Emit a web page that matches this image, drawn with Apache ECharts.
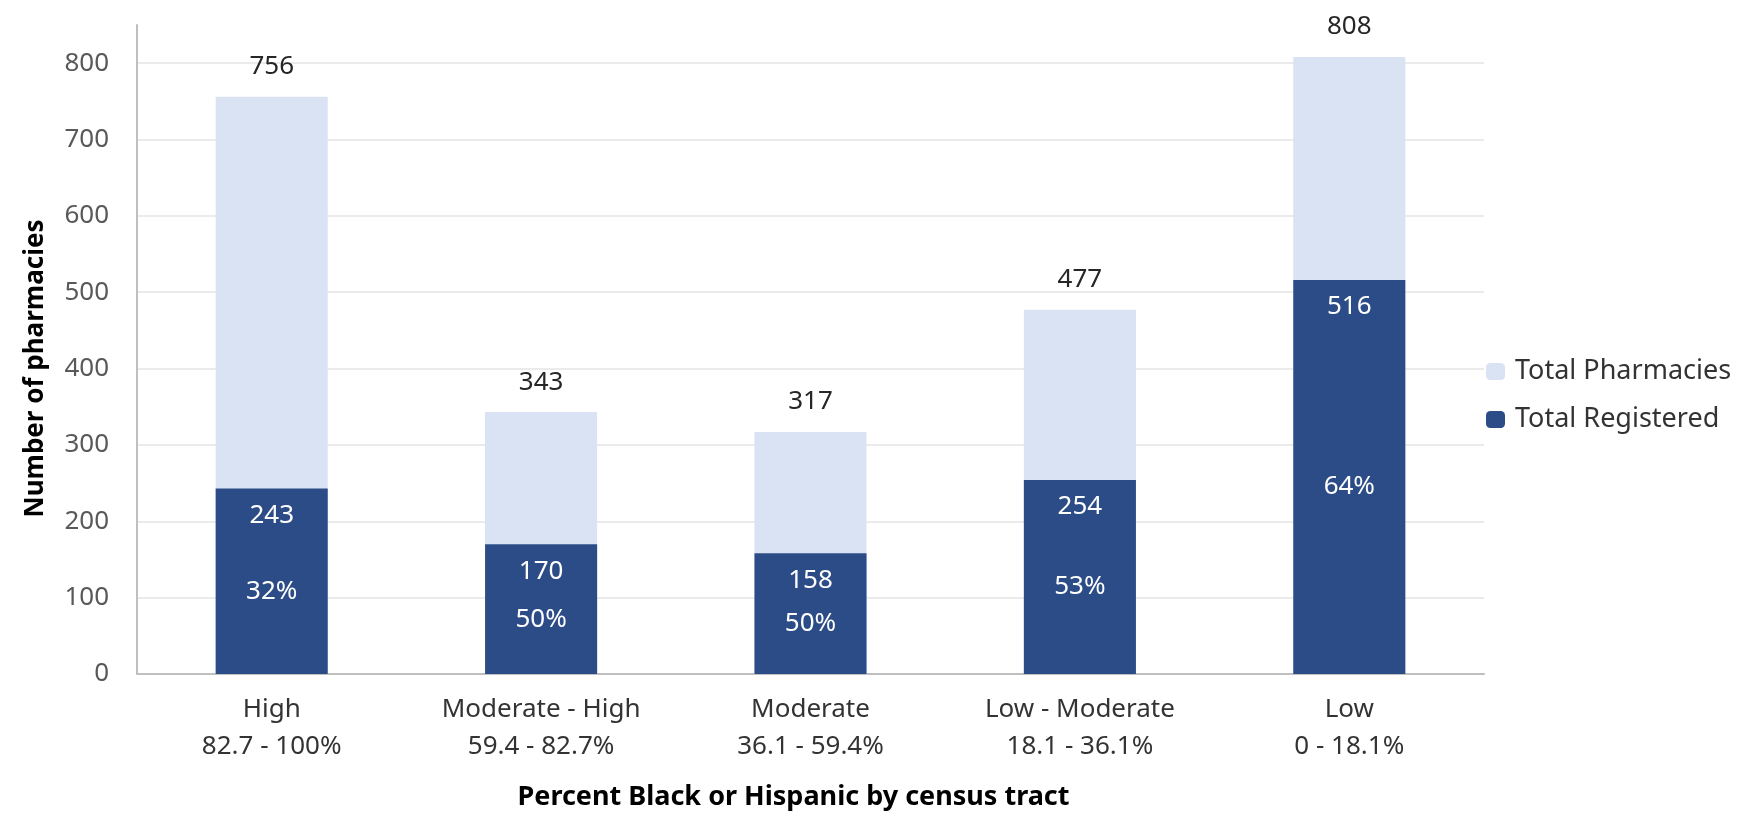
<!DOCTYPE html>
<html lang="en">
<head>
    <meta charset="UTF-8">
    <script src="https://cdnjs.cloudflare.com/ajax/libs/echarts/6.0.0/echarts.min.js"></script>
    <style>
        html, body { margin: 0; padding: 0; background: #fff; }
        #main { width: 1747px; height: 814px; }
    </style>
</head>
<body>

<div id="main"></div>

<script type="text/javascript">
    // census tract groups (percent Black or Hispanic)
    var categories = ['High\n82.7 - 100%', 'Moderate - High\n59.4 - 82.7%', 'Moderate\n36.1 - 59.4%',
                      'Low - Moderate\n18.1 - 36.1%', 'Low\n0 - 18.1%'];
    var totalPharmacies = [756, 343, 317, 477, 808];
    var totalRegistered = [243, 170, 158, 254, 516];
    var pctRegistered = ['32%', '50%', '50%', '53%', '64%'];

    var font = 'Noto Sans';

    var myChart = echarts.init(document.getElementById('main'));

    var option = {
        textStyle: { fontFamily: font },
        grid: { left: 137, right: 263, top: 25, bottom: 140, outerBoundsMode: 'none' },
        legend: {
            orient: 'vertical',
            left: 1481,
            top: 353,
            itemWidth: 19,
            itemHeight: 17,
            itemGap: 21,
            data: ['Total Pharmacies', 'Total Registered'],
            textStyle: { fontFamily: font, fontSize: 27, color: '#333', padding: [0, 0, 0, 5] }
        },
        xAxis: {
            type: 'category',
            data: categories,
            name: 'Percent Black or Hispanic by census tract',
            nameLocation: 'middle',
            nameGap: 110,
            nameTextStyle: { fontFamily: font, fontSize: 27, fontWeight: 'bold', color: '#000', padding: [0, 34, 0, 0] },
            axisLine: { lineStyle: { color: '#bfbfbf', width: 2 } },
            axisTick: { show: false },
            axisLabel: { fontFamily: font, fontSize: 26, color: '#333', lineHeight: 37, margin: 17 }
        },
        yAxis: {
            type: 'value',
            min: 0,
            max: 850,
            interval: 100,
            name: 'Number of pharmacies',
            nameLocation: 'middle',
            nameGap: 88,
            nameTextStyle: { fontFamily: font, fontSize: 26, fontWeight: 'bold', color: '#000', padding: [0, 38, 0, 0] },
            axisLine: { show: true, lineStyle: { color: '#bfbfbf', width: 2 } },
            axisTick: { show: false },
            axisLabel: { fontFamily: font, fontSize: 26, color: '#595959', margin: 28, showMaxLabel: false },
            splitLine: { showMaxLine: false, lineStyle: { color: '#ebebeb', width: 2 } }
        },
        series: [
            {
                name: 'Total Pharmacies',
                type: 'bar',
                data: totalPharmacies,
                barWidth: '41.6%',
                itemStyle: { color: '#dae3f3' },
                label: { show: true, position: 'top', distance: 17, fontSize: 26, color: '#262626' }
            },
            {
                name: 'Total Registered',
                type: 'bar',
                data: totalRegistered,
                barWidth: '41.6%',
                barGap: '-100%',
                itemStyle: { color: '#2c4c87' },
                label: { show: true, position: 'insideTop', distance: 14, fontSize: 26, color: '#fff' }
            },
            {
                // percentage labels sit over the registered bars
                name: 'pct',
                type: 'bar',
                data: totalRegistered,
                barWidth: '41.6%',
                barGap: '-100%',
                silent: true,
                itemStyle: { color: 'rgba(0,0,0,0)' },
                label: {
                    show: true,
                    position: 'inside',
                    offset: [0, 10],
                    fontSize: 26,
                    color: '#fff',
                    formatter: function (p) { return pctRegistered[p.dataIndex]; }
                }
            }
        ]
    };

    myChart.setOption(option);
</script>
</body>
</html>
